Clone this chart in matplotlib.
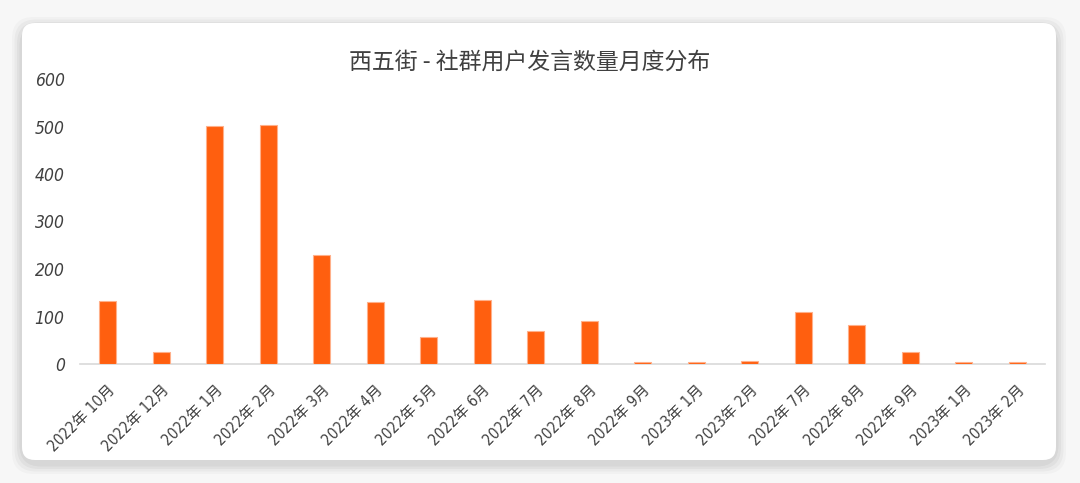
import matplotlib
matplotlib.use("Agg")
import matplotlib.pyplot as plt
from matplotlib.patches import FancyBboxPatch

plt.rcParams['font.family'] = ['DejaVu Sans', 'Noto Sans CJK SC']

# data
months = ["2022年 10月", "2022年 12月", "2022年 1月", "2022年 2月", "2022年 3月",
          "2022年 4月", "2022年 5月", "2022年 6月", "2022年 7月", "2022年 8月",
          "2022年 9月", "2023年 1月", "2023年 2月", "2022年 7月", "2022年 8月",
          "2022年 9月", "2023年 1月", "2023年 2月"]
counts = [133, 25, 501, 503, 229, 130, 57, 135, 70, 91,
          4, 4, 7, 109, 82, 25, 4, 4]
yticks = [0, 100, 200, 300, 400, 500, 600]

title = "西五街 - 社群用户发言数量月度分布"
bar_color = "#ff5f0f"
text_color = "#404040"

fig = plt.figure(figsize=(10.8, 4.83), dpi=100)
fig.patch.set_facecolor("#f7f7f7")

# card with soft shadow
W, H = 1080, 483
def px(x, y, w, h):
    return (x / W, 1 - (y + h) / H, w / W, h / H)

for i, a in enumerate([0.025, 0.03, 0.035, 0.04]):
    g = 10 - i * 2.5
    x0, y0, w, h = px(22 - g, 23 - g + 4, 1034 + 2 * g, 437 + 2 * g)
    fig.patches.append(FancyBboxPatch((x0, y0), w, h, boxstyle="round,pad=0,rounding_size=0.02",
                                      transform=fig.transFigure, facecolor="black", alpha=a,
                                      edgecolor="none", mutation_aspect=W / H))
x0, y0, w, h = px(22, 23, 1034, 437)
fig.patches.append(FancyBboxPatch((x0, y0), w, h, boxstyle="round,pad=0,rounding_size=0.012",
                                  transform=fig.transFigure, facecolor="white",
                                  edgecolor="none", mutation_aspect=W / H))

ax = fig.add_axes(px(80, 79, 965, 285))
ax.set_zorder(5)
ax.set_facecolor("none")
pos = list(range(len(months)))
ax.bar(pos, counts, width=0.32, color=bar_color, edgecolor="#ffb08a", linewidth=0.8, zorder=3)

ax.set_xlim(-0.52, len(months) - 0.48)
ax.set_ylim(0, 600)
ax.set_yticks(yticks)
ax.set_yticklabels([str(t) for t in yticks], fontstyle="italic", fontstretch="condensed",
                   fontsize=12.5, color=text_color)
ax.set_xticks(pos)
ax.set_xticklabels(months, rotation=45, ha="right", va="top", rotation_mode="anchor",
                   fontsize=11, color=text_color, fontstretch="condensed")
ax.tick_params(axis="both", length=0)
ax.tick_params(axis="y", pad=11)
ax.tick_params(axis="x", pad=13)
for s in ["top", "right", "left"]:
    ax.spines[s].set_visible(False)
ax.spines["bottom"].set_color("#d9d9d9")
ax.spines["bottom"].set_linewidth(1.2)

fig.text(530 / W, 1 - 62 / H, title, ha="center", va="center", fontsize=16.5,
         color=text_color, family=['Noto Sans CJK SC', 'DejaVu Sans'], zorder=6)

fig.savefig("out.png", dpi=100, facecolor=fig.get_facecolor())
